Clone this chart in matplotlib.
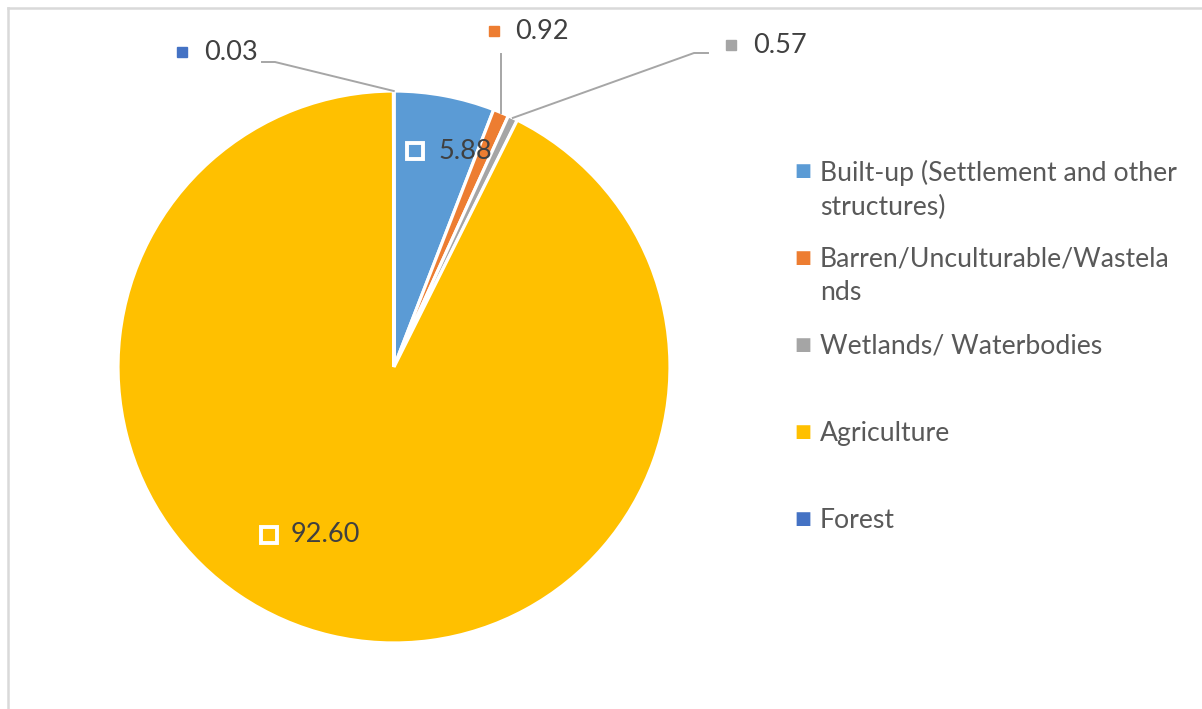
import matplotlib.pyplot as plt
from matplotlib.lines import Line2D
import numpy as np

plt.rcParams['font.family'] = ['Lato', 'DejaVu Sans']

# land use shares (%)
categories = ["Built-up (Settlement and other\nstructures)",
              "Barren/Unculturable/Wastela\nnds",
              "Wetlands/ Waterbodies",
              "Agriculture",
              "Forest"]
values = [5.88, 0.92, 0.57, 92.60, 0.03]
value_labels = ["5.88", "0.92", "0.57", "92.60", "0.03"]
colors = ["#5B9BD5", "#ED7D31", "#A5A5A5", "#FFC000", "#4472C4"]

W, H = 1202, 709
fig = plt.figure(figsize=(W / 100, H / 100), dpi=100)

# pie centre and radius in pixels
cx, cy, r = 394, 367, 276
ax = fig.add_axes([(cx - r) / W, (H - cy - r) / H, 2 * r / W, 2 * r / H])

wedges, _ = ax.pie(values, colors=colors, startangle=90, counterclock=False,
                   radius=1, wedgeprops=dict(edgecolor="white", linewidth=2.3))
ax.set_xlim(-1, 1)
ax.set_ylim(-1, 1)
ax.axis("off")


def px(x, y):
    # pixel position -> pie data coords
    return (x - cx) / r, (cy - y) / r


def rim(w):
    a = np.deg2rad((w.theta1 + w.theta2) / 2)
    return np.cos(a), np.sin(a)


txt_col = "#404040"
fs = 19.5

# label placement: (marker px, text-left px, inside?)
label_pos = {
    0: ((415, 151), 438, True),
    1: ((494, 31), 515, False),
    2: ((731, 45), 753, False),
    3: ((269, 535), 291, True),
    4: ((182, 52), 204, False),
}
for i, ((mx, my), tx, inside) in label_pos.items():
    x0, y0 = px(mx, my)
    if inside:
        ax.plot(x0, y0, marker="s", ms=11.5, mfc=colors[i], mec="white", mew=2.8,
                clip_on=False)
    else:
        ax.plot(x0, y0, marker="s", ms=7.5, mfc=colors[i], mec=colors[i],
                clip_on=False)
    ax.text(px(tx, 0)[0], y0, value_labels[i], fontsize=fs, color=txt_col,
            va="center", ha="left", clip_on=False)

# leader lines for the small slices
lc = "#A6A6A6"
rx, ry = rim(wedges[4])
ax.add_line(Line2D([px(262, 0)[0], px(275, 0)[0], rx], [px(0, 62)[1], px(0, 62)[1], ry],
                   color=lc, lw=1.4, clip_on=False))
rx, ry = rim(wedges[1])
ax.add_line(Line2D([rx, rx], [px(0, 54)[1], ry], color=lc, lw=1.4, clip_on=False))
rx, ry = rim(wedges[2])
ax.add_line(Line2D([px(708, 0)[0], px(694, 0)[0], rx], [px(0, 53)[1], px(0, 53)[1], ry],
                   color=lc, lw=1.4, clip_on=False))

# legend on the right
for i, (lab, col) in enumerate(zip(categories, colors)):
    yy = 171 + 87 * i
    fig.text(803 / W, 1 - yy / H, "\u25A0", color=col, fontsize=13,
             ha="center", va="center", family="DejaVu Sans")
    fig.text(820 / W, 1 - (yy - 11) / H, lab, color="#595959", fontsize=19.2,
             ha="left", va="top", linespacing=1.42)

# chart frame (top and left edges visible)
fig.add_artist(Line2D([8 / W, 1], [1 - 8 / H, 1 - 8 / H], color="#D9D9D9", lw=1.8))
fig.add_artist(Line2D([8 / W, 8 / W], [0, 1 - 8 / H], color="#D9D9D9", lw=1.8))

fig.savefig("out.png", dpi=100)
